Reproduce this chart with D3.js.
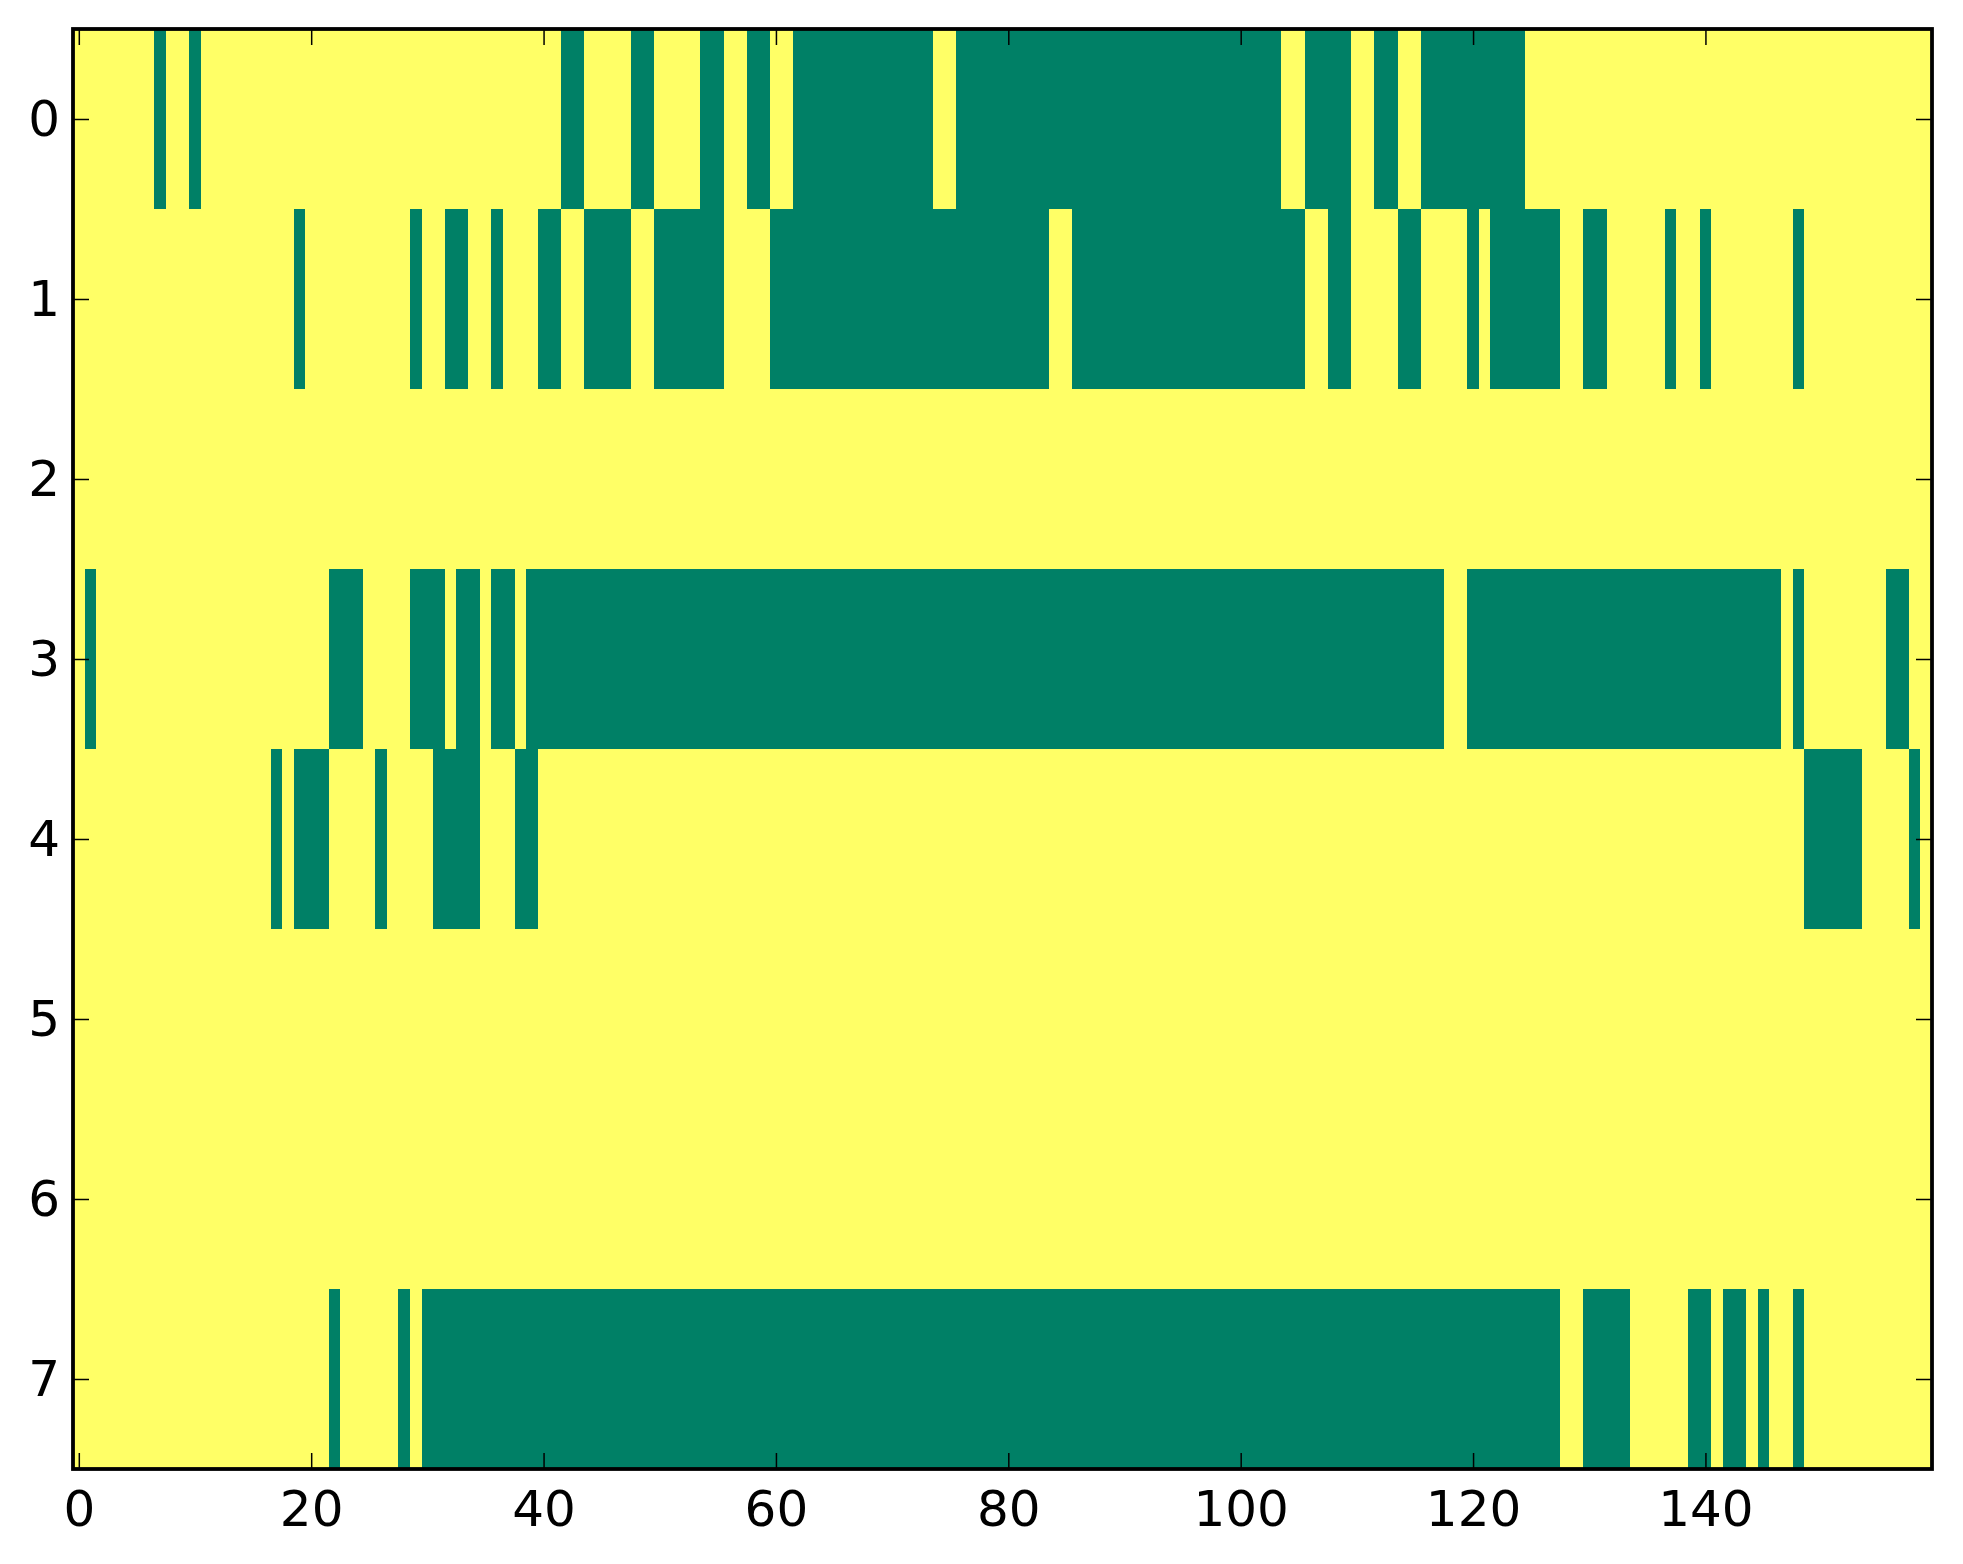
<!DOCTYPE html>
<html>
<head>
<meta charset="utf-8">
<script src="https://cdn.jsdelivr.net/npm/d3@7"></script>
<style>
  body { margin: 0; background: #ffffff; }
  text { font-family: "DejaVu Sans", sans-serif; }
</style>
</head>
<body>
<svg id="graph1"></svg>
<script>
// green stretches (value 0) per row, as [first column, last column]; everything else is 1 (yellow)
var row0 = [[7,7],[10,10],[42,43],[48,49],[54,55],[58,59],[62,73],[76,103],[106,109],[112,113],[116,124]]
var row1 = [[19,19],[29,29],[32,33],[36,36],[40,41],[44,47],[50,55],[60,83],[86,105],[108,109],[114,115],[120,120],[122,127],[130,131],[137,137],[140,140],[148,148]]
var row2 = []
var row3 = [[1,1],[22,24],[29,31],[33,34],[36,37],[39,117],[120,146],[148,148],[156,157]]
var row4 = [[17,17],[19,21],[26,26],[31,34],[38,39],[149,153],[158,158]]
var row5 = []
var row6 = []
var row7 = [[22,22],[28,28],[30,127],[130,133],[139,140],[142,143],[145,145],[148,148]]

var rowRuns = [row0,row1,row2,row3,row4,row5,row6,row7]
var nCols = 160
var xTicks = [0,20,40,60,80,100,120,140]
var yTicks = [0,1,2,3,4,5,6,7]

var initGraph = function()
{
    var screen = {width: 1963, height: 1564}
    var box = {left: 73, right: 1932, top: 29, bottom: 1469}

    var svg = d3.select("#graph1")
        .attr("width", screen.width)
        .attr("height", screen.height)

    // one cell per (row, column)
    var cells = []
    rowRuns.forEach(function(runs, r)
    {
        for (var c = 0; c < nCols; c++)
        {
            var green = runs.some(function(run){ return c >= run[0] && c <= run[1] })
            cells.push({row: r, col: c, value: green ? 0 : 1})
        }
    })

    var xBand = d3.scaleBand().domain(d3.range(nCols)).range([box.left, box.right])
    var yBand = d3.scaleBand().domain(d3.range(rowRuns.length)).range([box.top, box.bottom])
    var xScale = d3.scaleLinear().domain([-0.5, nCols - 0.5]).range([box.left, box.right])
    var yScale = d3.scaleLinear().domain([-0.5, rowRuns.length - 0.5]).range([box.top, box.bottom])

    var color = d3.scaleOrdinal().domain([0,1]).range(["#008066","#ffff66"])

    svg.append("g")
        .selectAll("rect")
        .data(cells)
        .enter()
        .append("rect")
        .attr("x", function(d){ return xBand(d.col) })
        .attr("y", function(d){ return yBand(d.row) })
        .attr("width", xBand.bandwidth() + 0.4)
        .attr("height", yBand.bandwidth() + 0.4)
        .attr("fill", function(d){ return color(d.value) })
        .attr("shape-rendering", "crispEdges")

    drawAxes(svg, box, xScale, yScale)
}

var drawAxes = function(svg, box, xScale, yScale)
{
    var tick = 16

    var bottom = svg.append("g")
        .attr("transform", "translate(0," + box.bottom + ")")
        .call(d3.axisBottom(xScale).tickValues(xTicks).tickSizeInner(-tick).tickSizeOuter(0).tickPadding(21))
    var top = svg.append("g")
        .attr("transform", "translate(0," + box.top + ")")
        .call(d3.axisTop(xScale).tickValues(xTicks).tickSizeInner(-tick).tickSizeOuter(0).tickFormat(""))
    var left = svg.append("g")
        .attr("transform", "translate(" + box.left + ",0)")
        .call(d3.axisLeft(yScale).tickValues(yTicks).tickSizeInner(-tick).tickSizeOuter(0).tickPadding(13))
    var right = svg.append("g")
        .attr("transform", "translate(" + box.right + ",0)")
        .call(d3.axisRight(yScale).tickValues(yTicks).tickSizeInner(-tick).tickSizeOuter(0).tickFormat(""))

    ;[bottom, top, left, right].forEach(function(a)
    {
        a.select(".domain").remove()
        a.selectAll(".tick line").attr("stroke", "#000").attr("stroke-width", 1.5)
        a.selectAll(".tick text")
            .attr("fill", "#000")
            .style("font-size", "50px")
            .style("font-family", "'DejaVu Sans', sans-serif")
    })

    svg.append("rect")
        .attr("x", box.left)
        .attr("y", box.top)
        .attr("width", box.right - box.left)
        .attr("height", box.bottom - box.top)
        .attr("fill", "none")
        .attr("stroke", "#000")
        .attr("stroke-width", 3.8)
}

initGraph()
</script>
</body>
</html>
